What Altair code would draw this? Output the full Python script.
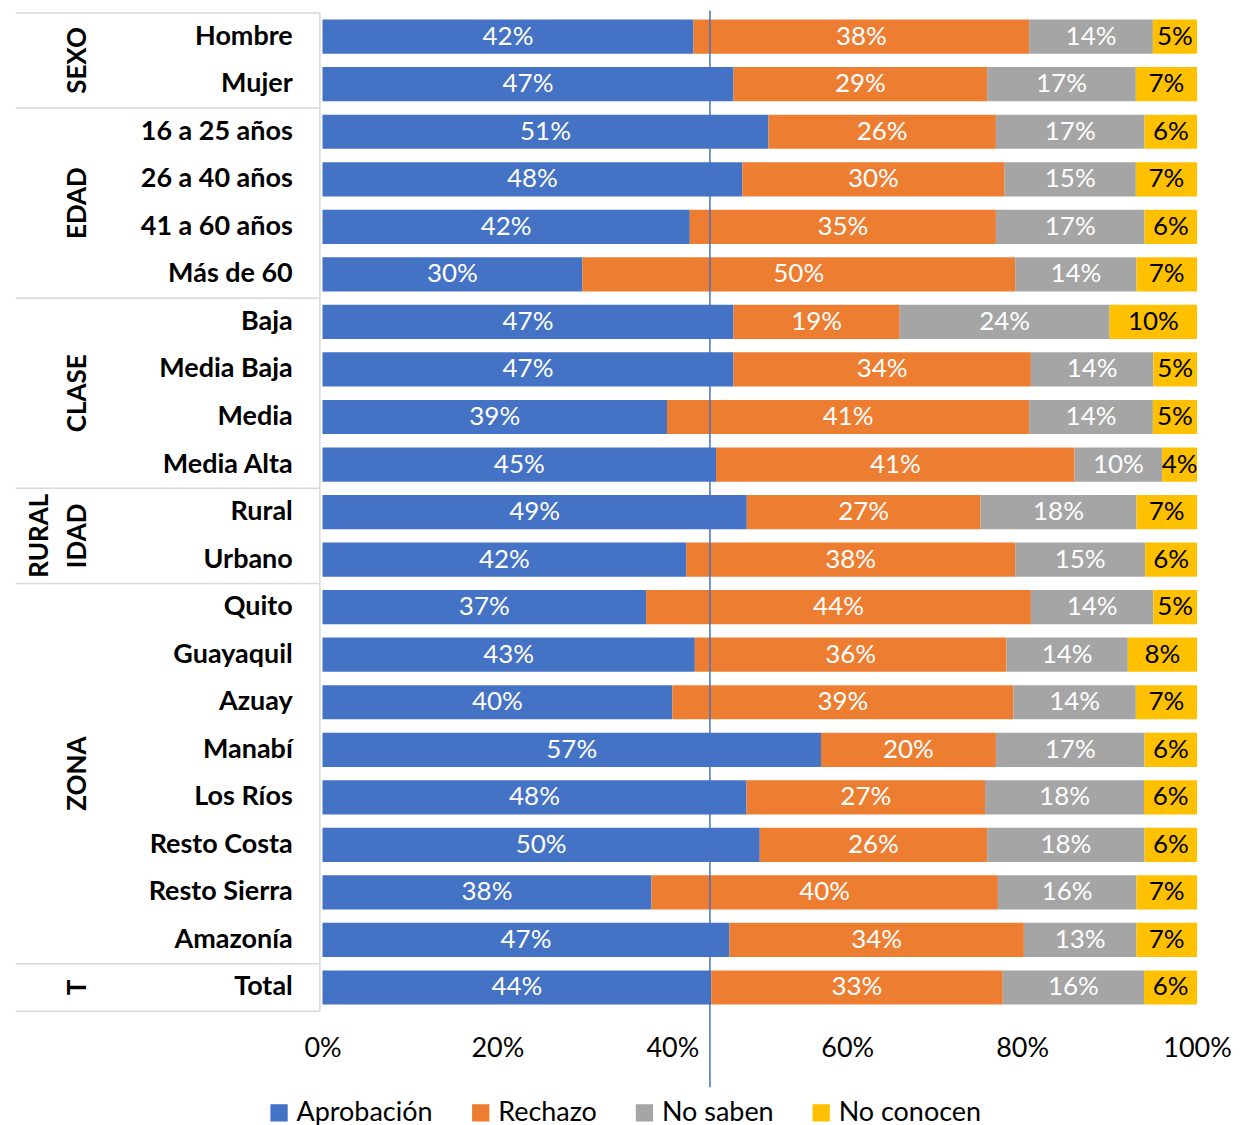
import pandas as pd
import altair as alt

categorias = ["Hombre", "Mujer", "16 a 25 años", "26 a 40 años", "41 a 60 años", "Más de 60",
              "Baja", "Media Baja", "Media", "Media Alta", "Rural", "Urbano",
              "Quito", "Guayaquil", "Azuay", "Manabí", "Los Ríos", "Resto Costa",
              "Resto Sierra", "Amazonía", "Total"]
aprobacion = [42, 47, 51, 48, 42, 30, 47, 47, 39, 45, 49, 42, 37, 43, 40, 57, 48, 50, 38, 47, 44]
rechazo = [38, 29, 26, 30, 35, 50, 19, 34, 41, 41, 27, 38, 44, 36, 39, 20, 27, 26, 40, 34, 33]
no_saben = [14, 17, 17, 15, 17, 14, 24, 14, 14, 10, 18, 15, 14, 14, 14, 17, 18, 18, 16, 13, 16]
no_conocen = [5, 7, 6, 7, 6, 7, 10, 5, 5, 4, 7, 6, 5, 8, 7, 6, 6, 6, 7, 7, 6]
series = ["Aprobación", "Rechazo", "No saben", "No conocen"]
colores = ["#4472C4", "#ED7D31", "#A5A5A5", "#FFC000"]

grupos = ["SEXO", "EDAD", "CLASE", "RURAL", "IDAD", "ZONA", "T"]
grupo_fila = [0.5, 3.5, 7.5, 10.5, 10.5, 15.5, 20]
grupo_x = [-0.28, -0.28, -0.28, -0.323, -0.28, -0.28, -0.28]
separadores = [-0.5, 1.5, 5.5, 9.5, 11.5, 19.5, 20.5]

FONT = "Lato"

rows = []
for i, cat in enumerate(categorias):
    vals = [aprobacion[i], rechazo[i], no_saben[i], no_conocen[i]]
    total = sum(vals)
    start = 0.0
    for s, v in zip(series, vals):
        end = start + v / total
        rows.append({"cat": cat, "idx": i, "y0": i - 0.36, "y1": i + 0.36,
                     "serie": s, "x0": start, "x1": end, "mid": (start + end) / 2,
                     "label": f"{v}%"})
        start = end
df = pd.DataFrame(rows)


def X(field):
    return alt.X(field, type="quantitative", title=None,
                 scale=alt.Scale(domain=[-0.3596, 1.0], nice=False, zero=False),
                 axis=alt.Axis(tickCount=14, format=".0%", grid=False, domain=False,
                               ticks=False, labelFontSize=27, labelFont=FONT,
                               labelColor="black", labelPadding=24, labelFlush=False,
                               labelBound=False,
                               labelExpr="datum.value >= 0 && abs(datum.value * 5 - round(datum.value * 5)) < 0.01 ? datum.label : ''"))


def Y(field):
    return alt.Y(field, type="quantitative", axis=None,
                 scale=alt.Scale(domain=[-0.5, 20.5], reverse=True, nice=False, zero=False))


bars = alt.Chart(df).mark_bar().encode(
    x=X("x0"), x2="x1", y=Y("y0"), y2="y1",
    color=alt.Color("serie:N",
                    scale=alt.Scale(domain=series, range=colores),
                    legend=alt.Legend(orient="none", legendX=258, legendY=1088,
                                      direction="horizontal", title=None,
                                      symbolType="square", symbolSize=300,
                                      labelFontSize=27, labelFont=FONT,
                                      columnPadding=34)),
)

textos_blancos = alt.Chart(df).transform_filter("datum.serie != 'No conocen'").mark_text(
    fontSize=26, font=FONT, baseline="middle", color="white").encode(
    x=X("mid"), y=Y("idx"), text="label:N")
textos_negros = alt.Chart(df).transform_filter("datum.serie == 'No conocen'").mark_text(
    fontSize=26, font=FONT, baseline="middle", color="black").encode(
    x=X("mid"), y=Y("idx"), text="label:N")

cat_df = pd.DataFrame({"cat": categorias, "idx": list(range(len(categorias))),
                       "cx": [-0.034] * len(categorias)})
cat_text = alt.Chart(cat_df).mark_text(fontSize=27, font=FONT, fontWeight="bold",
                                       align="right", baseline="middle").encode(
    x=X("cx"), y=Y("idx"), text="cat:N")

g_df = pd.DataFrame({"g": grupos, "idx": grupo_fila, "gx": grupo_x})
g_text = alt.Chart(g_df).mark_text(fontSize=26, font=FONT, fontWeight="bold",
                                   angle=270, baseline="middle").encode(
    x=X("gx"), y=Y("idx"), text="g:N")

sep_df = pd.DataFrame({"s": separadores, "xa": [-0.351] * 7, "xb": [-0.003] * 7})
seps = alt.Chart(sep_df).mark_rule(color="#D9D9D9", strokeWidth=1.5).encode(
    x=X("xa"), x2="xb", y=Y("s"))
vline = alt.Chart(pd.DataFrame({"v": [-0.003], "a": [-0.5], "b": [20.5]})).mark_rule(
    color="#D9D9D9", strokeWidth=1.5).encode(x=X("v"), y=Y("a"), y2="b")
blue = alt.Chart(pd.DataFrame({"v": [0.443], "a": [-0.55], "b": [22.1]})).mark_rule(
    color="#4472C4", strokeWidth=1.5).encode(x=X("v"), y=Y("a"), y2="b")

chart = alt.layer(seps, vline, bars, textos_blancos, textos_negros, cat_text, g_text, blue).properties(
    width=1191, height=1000,
    padding={"left": 0, "top": 0, "right": 0, "bottom": 0},
).configure_view(stroke=None)

chart.save("out.html", embed_options={"renderer": "svg", "actions": False})
